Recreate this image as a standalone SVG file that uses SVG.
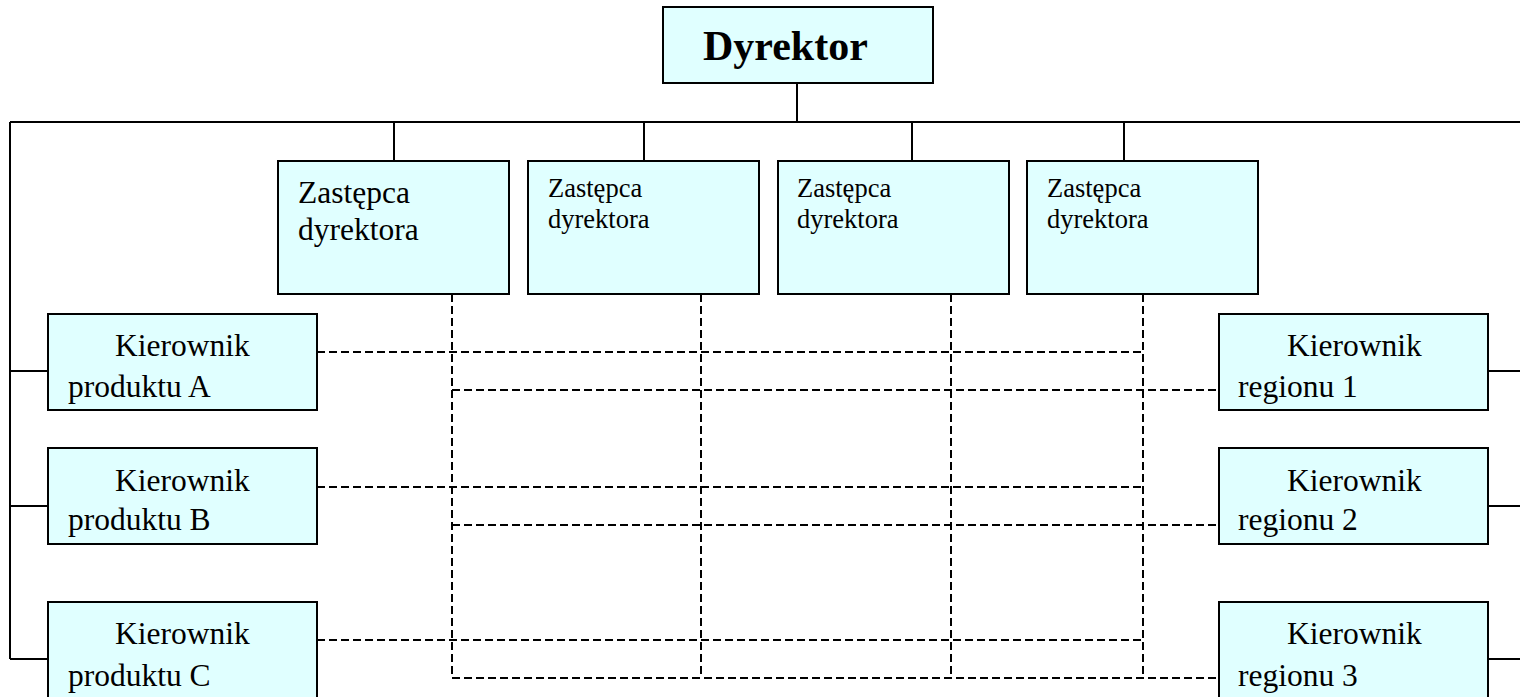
<svg xmlns="http://www.w3.org/2000/svg" width="1520" height="697" viewBox="0 0 1520 697">
  <style>
    .box { fill: #e0ffff; stroke: #000; stroke-width: 2; }
    .solid { fill: none; stroke: #000; stroke-width: 2; }
    .dash { fill: none; stroke: #000; stroke-width: 2; stroke-dasharray: 8 4; }
    text { font-family: "Liberation Serif", "Times New Roman", serif; fill: #000; }
    .big { font-size: 31.5px; }
    .small { font-size: 26.5px; }
    .title { font-size: 42px; font-weight: bold; }
  </style>
  <rect width="1520" height="697" fill="#fff"/>

  <!-- connectors -->
  <g id="connectors">
    <!-- solid reporting lines -->
    <path class="solid" d="M797 83 V122 M10 122 H1520 M394 122 V161 M644 122 V161 M912 122 V161 M1124 122 V161"/>
    <path class="solid" d="M10 122 V659 M10 371 H48 M10 506 H48 M10 659 H48"/>
    <path class="solid" d="M1488 371 H1520 M1488 506 H1520 M1488 659 H1520"/>
    <!-- dashed matrix lines -->
    <path class="dash" d="M452 294 V678 M701 294 V678 M951 294 V678 M1143 294 V678"/>
    <path class="dash" d="M317 352 H1143 M317 487 H1143 M317 640 H1143"/>
    <path class="dash" d="M452 390 H1219 M452 525 H1219 M452 678 H1219"/>
  </g>

  <g id="dyrektor">
    <rect class="box" x="663" y="7" width="270" height="76"/>
    <text class="title" x="703" y="60">Dyrektor</text>
  </g>

  <g id="zastepca-1">
    <rect class="box" x="278" y="161" width="231" height="133"/>
    <text class="big" x="298" y="203">Zastępca</text>
    <text class="big" x="298" y="240">dyrektora</text>
  </g>
  <g id="zastepca-2">
    <rect class="box" x="528" y="161" width="231" height="133"/>
    <text class="small" x="548" y="197">Zastępca</text>
    <text class="small" x="548" y="228">dyrektora</text>
  </g>
  <g id="zastepca-3">
    <rect class="box" x="778" y="161" width="231" height="133"/>
    <text class="small" x="797" y="197">Zastępca</text>
    <text class="small" x="797" y="228">dyrektora</text>
  </g>
  <g id="zastepca-4">
    <rect class="box" x="1027" y="161" width="231" height="133"/>
    <text class="small" x="1047" y="197">Zastępca</text>
    <text class="small" x="1047" y="228">dyrektora</text>
  </g>

  <g id="produkt-a">
    <rect class="box" x="48" y="314" width="269" height="96"/>
    <text class="big" x="115" y="356">Kierownik</text>
    <text class="big" x="68" y="397">produktu A</text>
  </g>
  <g id="produkt-b">
    <rect class="box" x="48" y="448" width="269" height="96"/>
    <text class="big" x="115" y="491">Kierownik</text>
    <text class="big" x="68" y="530">produktu B</text>
  </g>
  <g id="produkt-c">
    <rect class="box" x="48" y="602" width="269" height="96"/>
    <text class="big" x="115" y="644">Kierownik</text>
    <text class="big" x="68" y="686">produktu C</text>
  </g>

  <g id="region-1">
    <rect class="box" x="1219" y="314" width="269" height="96"/>
    <text class="big" x="1287" y="356">Kierownik</text>
    <text class="big" x="1238" y="397">regionu 1</text>
  </g>
  <g id="region-2">
    <rect class="box" x="1219" y="448" width="269" height="96"/>
    <text class="big" x="1287" y="491">Kierownik</text>
    <text class="big" x="1238" y="530">regionu 2</text>
  </g>
  <g id="region-3">
    <rect class="box" x="1219" y="602" width="269" height="96"/>
    <text class="big" x="1287" y="644">Kierownik</text>
    <text class="big" x="1238" y="686">regionu 3</text>
  </g>
</svg>
